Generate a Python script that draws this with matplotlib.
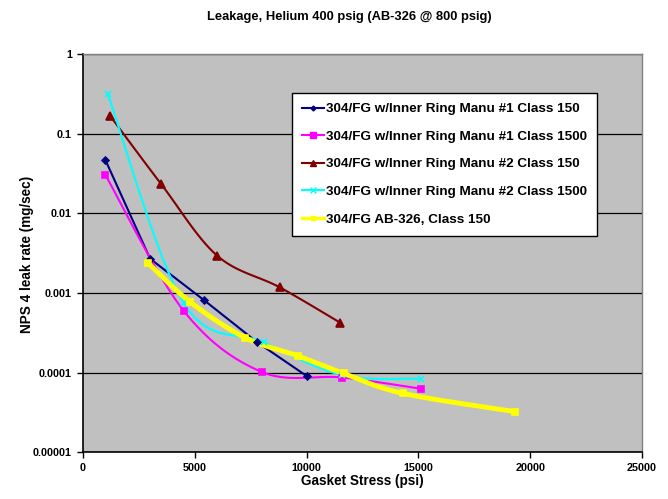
import numpy as np
import matplotlib
matplotlib.use('Agg')
import matplotlib.pyplot as plt
from matplotlib.lines import Line2D

plt.rcParams['font.family'] = ['Liberation Sans', 'DejaVu Sans']
plt.rcParams['font.weight'] = 'bold'

# values
navy_x = [1000, 3000, 5400, 7800, 10000]
navy_y = [0.047, 0.0027, 0.00082, 0.00024, 0.000091]
mag_x = [1000, 4500, 8000, 11600, 15100]
mag_y = [0.0305, 0.0006, 0.000102, 0.000087, 0.000063]
red_x = [1200, 3500, 6000, 8800, 11500]
red_y = [0.17, 0.0233, 0.00295, 0.00118, 0.000425]
cyan_x = [1100, 4500, 8100, 11600, 15100]
cyan_y = [0.32, 0.00075, 0.00024, 0.000093, 0.000084]
yel_x = [2900, 4800, 7250, 9600, 11650, 14300, 19300]
yel_y = [0.0024, 0.00077, 0.000275, 0.000163, 0.000098, 0.000055, 0.0000325]

labels = ['304/FG w/Inner Ring Manu #1 Class 150',
          '304/FG w/Inner Ring Manu #1 Class 1500',
          '304/FG w/Inner Ring Manu #2 Class 150',
          '304/FG w/Inner Ring Manu #2 Class 1500',
          '304/FG AB-326, Class 150']

xticks = [0, 5000, 10000, 15000, 20000, 25000]
xtick_labels = ['0', '5000', '10000', '15000', '20000', '25000']
yticks = [0.00001, 0.0001, 0.001, 0.01, 0.1, 1]
ytick_labels = ['0.00001', '0.0001', '0.001', '0.01', '0.1', '1']


def smooth(ax, xs, ys, n=30):
    # excel-like smoothed line, bezier in screen space
    pts = ax.transData.transform(np.column_stack([xs, ys]))
    p = np.vstack([pts[0], pts, pts[-1]])
    t = np.linspace(0, 1, n)[:, None]
    out = []
    for i in range(1, len(p) - 2):
        p0, p1, p2, p3 = p[i - 1], p[i], p[i + 1], p[i + 2]
        c1 = p1 + (p2 - p0) / 6
        c2 = p2 - (p3 - p1) / 6
        seg = (1 - t) ** 3 * p1 + 3 * (1 - t) ** 2 * t * c1 + 3 * (1 - t) * t ** 2 * c2 + t ** 3 * p2
        out.append(seg if i == 1 else seg[1:])
    d = ax.transData.inverted().transform(np.vstack(out))
    return d[:, 0], d[:, 1]


fig = plt.figure(figsize=(6.68, 4.99), dpi=100)
ax = fig.add_axes([0.1243, 0.0936, 0.8368, 0.7976])
ax.set_facecolor('#C0C0C0')
ax.set_yscale('log')
ax.set_xlim(0, 25000)
ax.set_ylim(0.00001, 1)

ax.set_xticks(xticks)
ax.set_xticklabels(xtick_labels)
ax.set_yticks(yticks)
ax.set_yticklabels(ytick_labels)
ax.minorticks_off()
ax.tick_params(axis='both', direction='out', length=4, width=1, pad=4, labelsize=7.8)
for lab in ax.get_xticklabels() + ax.get_yticklabels():
    lab.set_fontweight('bold')

ax.yaxis.grid(True, color='black', linewidth=0.9)
ax.set_axisbelow(True)
for s in ['top', 'right']:
    ax.spines[s].set_color('#808080')
    ax.spines[s].set_linewidth(1)
for s in ['left', 'bottom']:
    ax.spines[s].set_color('black')
    ax.spines[s].set_linewidth(1.2)

series = [
    (navy_x, navy_y, '#000080', 'D', 3.5, 1.5, False),
    (mag_x, mag_y, '#FF00FF', 's', 5, 1.5, True),
    (red_x, red_y, '#800000', '^', 5.5, 1.5, True),
    (cyan_x, cyan_y, '#00FFFF', 'x', 5, 1.5, True),
    (yel_x, yel_y, '#FFFF00', 's', 4, 3.5, True),
]

handles = []
for (xs, ys, col, mk, ms, lw, sm), lab in zip(series, labels):
    if sm:
        sx, sy = smooth(ax, xs, ys)
    else:
        sx, sy = xs, ys
    ax.plot(sx, sy, color=col, linewidth=lw, zorder=3)
    ax.plot(xs, ys, linestyle='none', marker=mk, markersize=ms, color=col,
            markeredgecolor=col, markeredgewidth=1.2, zorder=4)
    handles.append(Line2D([], [], color=col, linewidth=lw if lw < 3 else 2.5,
                          marker=mk, markersize=ms - 1, markeredgecolor=col))

leg = ax.legend(handles, labels, loc='upper left', bbox_to_anchor=(0.374, 0.903),
                borderaxespad=0, prop={'weight': 'bold', 'size': 9.7},
                frameon=True, fancybox=False, edgecolor='black', framealpha=1,
                borderpad=0.75, labelspacing=1.12, handlelength=1.6, handletextpad=0.15)
leg.get_frame().set_linewidth(1)

fig.text(349.5 / 668, 1 - 17 / 499, 'Leakage, Helium 400 psig (AB-326 @ 800 psig)',
         ha='center', va='center', fontsize=9.3, fontweight='bold')
fig.text(362 / 668, 1 - 481 / 499, 'Gasket Stress (psi)',
         ha='center', va='center', fontsize=9.75, fontweight='bold')
fig.text(27 / 668, 1 - 254 / 499, 'NPS 4 leak rate (mg/sec)', rotation=90,
         ha='center', va='center', fontsize=9.75, fontweight='bold')

fig.savefig('out.png', dpi=100)
